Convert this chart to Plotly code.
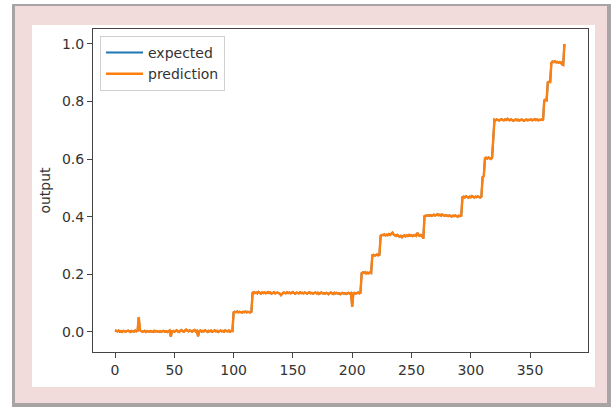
import plotly.graph_objects as go

# ---- data ----
prediction = [
    # 0-99
    0.006, 0.004, 0.002, 0.005, 0.001, 0.003, 0.000, 0.004, 0.002, 0.001,
    0.003, 0.005, 0.002, 0.000, 0.004, 0.003, 0.001, 0.005, 0.002, 0.004,
    0.052, 0.006, 0.003, 0.001, 0.002, 0.004, 0.000, 0.003, 0.002, 0.001,
    0.003, 0.002, 0.000, 0.004, 0.001, 0.003, 0.002, 0.000, 0.003, 0.001,
    0.002, 0.004, 0.001, 0.003, 0.000, 0.002, 0.005, -0.016, 0.002, 0.004,
    0.001, 0.003, 0.006, 0.002, 0.000, 0.004, 0.007, 0.003, 0.001, 0.005,
    0.008, 0.004, 0.002, 0.006, 0.003, 0.001, 0.005, 0.007, 0.002, 0.004,
    -0.015, 0.003, 0.005, 0.001, 0.004, 0.002, 0.006, 0.003, 0.000, 0.004,
    0.002, 0.005, 0.001, 0.003, 0.006, 0.002, 0.004, 0.000, 0.003, 0.005,
    0.002, 0.004, 0.001, 0.006, 0.003, 0.002, 0.005, 0.001, 0.004, 0.003,
    # 100-115
    0.068, 0.070, 0.069, 0.071, 0.068, 0.070, 0.069, 0.067, 0.070, 0.069,
    0.071, 0.068, 0.070, 0.069, 0.068, 0.070,
    # 116-199
    0.136, 0.138, 0.135, 0.137, 0.134, 0.139, 0.136, 0.133, 0.137, 0.135,
    0.138, 0.134, 0.136, 0.139, 0.135, 0.137, 0.133, 0.136, 0.138, 0.134,
    0.136, 0.137, 0.135, 0.133, 0.128, 0.135, 0.137, 0.136, 0.134, 0.138,
    0.135, 0.137, 0.134, 0.136, 0.139, 0.135, 0.133, 0.137, 0.136, 0.134,
    0.138, 0.135, 0.136, 0.134, 0.137, 0.135, 0.133, 0.136, 0.138, 0.134,
    0.136, 0.133, 0.135, 0.137, 0.134, 0.136, 0.132, 0.135, 0.137, 0.134,
    0.135, 0.133, 0.136, 0.134, 0.131, 0.135, 0.137, 0.134, 0.132, 0.136,
    0.134, 0.136, 0.133, 0.135, 0.131, 0.134, 0.136, 0.133, 0.135, 0.132,
    0.134, 0.136, 0.133, 0.135,
    # 200-207
    0.088, 0.134, 0.136, 0.133, 0.135, 0.137, 0.134, 0.136,
    # 208-216
    0.204, 0.207, 0.205, 0.208, 0.203, 0.206, 0.204, 0.207, 0.205,
    # 217-223
    0.266, 0.268, 0.265, 0.267, 0.269, 0.266, 0.268,
    # 224-260
    0.334, 0.337, 0.336, 0.339, 0.335, 0.338, 0.336, 0.340, 0.337, 0.342,
    0.345, 0.338, 0.336, 0.333, 0.337, 0.335, 0.331, 0.334, 0.329, 0.333,
    0.336, 0.332, 0.335, 0.333, 0.337, 0.334, 0.336, 0.333, 0.335, 0.337,
    0.334, 0.344, 0.336, 0.334, 0.337, 0.335, 0.324,
    # 261-292
    0.402, 0.404, 0.403, 0.405, 0.404, 0.406, 0.403, 0.405, 0.407, 0.404,
    0.406, 0.409, 0.405, 0.407, 0.404, 0.408, 0.405, 0.403, 0.406, 0.404,
    0.402, 0.405, 0.403, 0.401, 0.404, 0.402, 0.405, 0.403, 0.400, 0.404,
    0.402, 0.404,
    # 293-309
    0.468, 0.470, 0.467, 0.471, 0.469, 0.466, 0.470, 0.468, 0.472, 0.469,
    0.467, 0.470, 0.468, 0.471, 0.469, 0.467, 0.470,
    # 310-319
    0.538, 0.541,
    0.603, 0.605, 0.602, 0.606, 0.604, 0.601, 0.605,
    0.672,
    # 320-361
    0.737, 0.735, 0.738, 0.736, 0.734, 0.737, 0.739, 0.736, 0.735, 0.738,
    0.736, 0.740, 0.737, 0.735, 0.738, 0.736, 0.733, 0.736, 0.738, 0.735,
    0.737, 0.734, 0.736, 0.738, 0.735, 0.733, 0.736, 0.738, 0.735, 0.737,
    0.736, 0.738, 0.735, 0.737, 0.739, 0.736, 0.738, 0.735, 0.737, 0.736,
    0.738, 0.735,
    # 362-379
    0.804, 0.807, 0.805,
    0.867, 0.869, 0.868,
    0.934, 0.939, 0.937, 0.940, 0.936, 0.938, 0.935, 0.937, 0.936,
    0.929, 0.927,
    1.000,
]

# expected: the blue line is fully hidden under the orange one in the
# picture, so its readable values are the same as the prediction's
expected = list(prediction)

x_pred = list(range(len(prediction)))
x_exp = list(range(len(expected)))

x_ticks = [0, 50, 100, 150, 200, 250, 300, 350]
y_ticks = [0.0, 0.2, 0.4, 0.6, 0.8, 1.0]
y_tick_labels = ["0.0", "0.2", "0.4", "0.6", "0.8", "1.0"]

# ---- layout geometry (pixels) ----
W, H = 614, 408
L, R, T, B = 93, 588, 29, 352   # plot area edges


def px(xp):
    return (xp - L) / (R - L)


def py(yp):
    return (B - yp) / (B - T)


FONT = "DejaVu Sans"
FS = 14

fig = go.Figure()
fig.add_trace(go.Scatter(x=x_exp, y=expected, mode="lines", name="expected",
                         line=dict(color="#1f77b4", width=2), legendgroup="a"))
fig.add_trace(go.Scatter(x=x_pred, y=prediction, mode="lines", name="prediction",
                         line=dict(color="#ff7f0e", width=2.4), legendgroup="b"))

shapes = [
    # shadow
    dict(type="rect", xref="paper", yref="paper", layer="below",
         x0=px(12), x1=px(611), y0=py(407), y1=py(4),
         fillcolor="#a9a4a4", line=dict(width=0)),
    # pink frame
    dict(type="rect", xref="paper", yref="paper", layer="below",
         x0=px(15), x1=px(607), y0=py(403), y1=py(6),
         fillcolor="#f2dcdb", line=dict(width=0)),
    # white inner area
    dict(type="rect", xref="paper", yref="paper", layer="below",
         x0=px(32), x1=px(595), y0=py(387), y1=py(25),
         fillcolor="#ffffff", line=dict(width=0)),
]

fig.update_layout(
    width=W, height=H,
    margin=dict(l=L, r=W - R, t=T, b=H - B, pad=0, autoexpand=False),
    paper_bgcolor="#ffffff",
    plot_bgcolor="#ffffff",
    shapes=shapes,
    font=dict(family=FONT, size=FS, color="#333333"),
    showlegend=True,
    legend=dict(x=px(100), y=py(36), xanchor="left", yanchor="top",
                bgcolor="rgba(255,255,255,0.9)", bordercolor="#d0d0d0",
                borderwidth=1, font=dict(size=FS, color="#333333"),
                tracegroupgap=0, itemwidth=37),
    xaxis=dict(range=[-18.6, 398.9], tickmode="array", tickvals=x_ticks,
               ticktext=[str(v) for v in x_ticks], automargin=False,
               showgrid=False, zeroline=False,
               showline=True, linecolor="#444444", linewidth=1, mirror=True,
               ticks="outside", ticklen=5, tickcolor="#444444", tickwidth=1,
               tickfont=dict(size=FS, color="#333333")),
    yaxis=dict(range=[-0.0695, 1.052], tickmode="array", tickvals=y_ticks,
               ticktext=y_tick_labels, automargin=False,
               showgrid=False, zeroline=False,
               showline=True, linecolor="#444444", linewidth=1, mirror=True,
               ticks="outside", ticklen=5, tickcolor="#444444", tickwidth=1,
               tickfont=dict(size=FS, color="#333333"),
               title=dict(text="output", standoff=8,
                          font=dict(size=FS, color="#333333"))),
)

fig.write_html(
    "out.html",
    config={"displayModeBar": False, "staticPlot": True},
    post_script="document.body.style.margin='0';document.body.style.padding='0';",
)
